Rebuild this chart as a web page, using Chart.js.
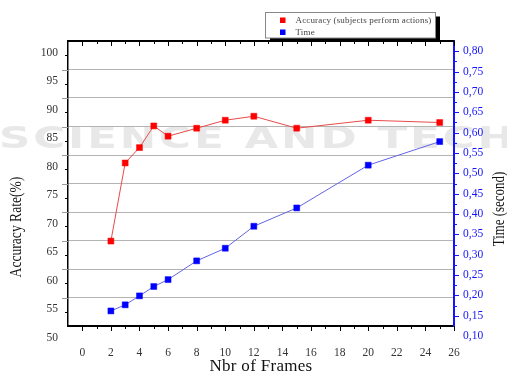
<!DOCTYPE html>
<html>
<head>
<meta charset="utf-8">
<script src="https://cdn.jsdelivr.net/npm/chart.js@4.4.1/dist/chart.umd.min.js"></script>
<style>
  html, body { margin: 0; padding: 0; background: #fff; }
  #wrap { width: 507px; height: 374px; }
</style>
</head>
<body>
<div id="wrap"><canvas id="chart" width="507" height="374"></canvas></div>
<script>
// Data
const frames = [2, 3, 4, 5, 6, 8, 10, 12, 15, 20, 25];
const accuracy = [67.4, 81.1, 83.8, 87.6, 85.8, 87.2, 88.6, 89.3, 87.2, 88.6, 88.2];
const timeSec = [0.162, 0.177, 0.199, 0.222, 0.239, 0.285, 0.316, 0.370, 0.415, 0.520, 0.578];

const frameTicks = [0, 2, 4, 6, 8, 10, 12, 14, 16, 18, 20, 22, 24, 26];
const accTicks = [55, 57.5, 60, 62.5, 65, 67.5, 70, 72.5, 75, 77.5, 80, 82.5, 85, 87.5, 90, 92.5, 95, 97.5, 100];
const timeTicks = [0.15, 0.20, 0.25, 0.30, 0.35, 0.40, 0.45, 0.50, 0.55, 0.60, 0.65, 0.70, 0.75, 0.80];

const SERIF = '"Liberation Serif", "Times New Roman", serif';
const BLUE = '#1414ff';

function seg(ctx, x1, y1, x2, y2) {
    ctx.beginPath();
    ctx.moveTo(x1, y1);
    ctx.lineTo(x2, y2);
    ctx.stroke();
}

// background, watermark, frame, minor ticks, titles and legend
const decor = {
    id: 'decor',
    beforeDraw(chart) {
        const ctx = chart.ctx;
        ctx.save();
        ctx.fillStyle = '#fff';
        ctx.fillRect(0, 0, chart.width, chart.height);
        ctx.fillStyle = '#e8e8e8';
        ctx.font = 'bold 30px "DejaVu Sans"';
        ctx.letterSpacing = '2px';
        ctx.translate(-1, 148);
        ctx.scale(1.45, 1);
        ctx.fillText('SCIENCE AND TECH', 0, 0);
        ctx.restore();
    },
    afterDraw(chart) {
        const { ctx, chartArea: a, scales } = chart;
        const x = scales.x, y = scales.y, y1 = scales.y1;
        ctx.save();

        // top frame line + inward ticks, bottom outward ticks
        ctx.strokeStyle = '#000';
        ctx.lineWidth = 2;
        seg(ctx, a.left - 1, a.top, a.right, a.top);
        ctx.lineWidth = 1;
        for (let v = 0; v <= 26; v++) {
            const px = Math.round(x.getPixelForValue(v)) + 0.5;
            const len = v % 2 === 0 ? 5 : 3;
            seg(ctx, px, a.top, px, a.top + len);
            seg(ctx, px, a.bottom, px, a.bottom + len);
        }

        // left axis ticks
        accTicks.forEach(v => {
            const py = Math.round(y.getPixelForValue(v)) + 0.5;
            if (v % 5 === 0) {
                ctx.strokeStyle = '#000';
                seg(ctx, a.left - 3, py, a.left, py);
            } else {
                ctx.strokeStyle = '#999';
                seg(ctx, a.left - 6, py, a.left, py);
            }
        });

        // right axis ticks
        ctx.strokeStyle = BLUE;
        for (let i = 0; i <= 26; i++) {
            const v = 0.15 + i * 0.025;
            const py = Math.round(y1.getPixelForValue(v)) + 0.5;
            seg(ctx, a.right, py, a.right + (i % 2 === 0 ? 5 : 3), py);
        }

        // labels that sit just below the axes
        ctx.font = '11.5px ' + SERIF;
        ctx.textBaseline = 'middle';
        ctx.fillStyle = '#333';
        ctx.textAlign = 'right';
        ctx.fillText('50', a.left - 10, y.getPixelForValue(50) - 2.5);
        ctx.fillStyle = BLUE;
        ctx.textAlign = 'left';
        ctx.fillText('0,10', a.right + 9, y1.getPixelForValue(0.10));

        // axis titles
        ctx.fillStyle = '#111';
        ctx.textAlign = 'center';
        ctx.font = '17px ' + SERIF;
        ctx.letterSpacing = '0.3px';
        ctx.fillText('Nbr of Frames', (a.left + a.right) / 2, 367);
        ctx.letterSpacing = '0px';

        ctx.font = '17px ' + SERIF;
        ctx.save();
        ctx.translate(17, 227);
        ctx.rotate(-Math.PI / 2);
        ctx.scale(0.8, 1);
        ctx.fillText('Accuracy Rate(%)', 0, 0);
        ctx.restore();

        ctx.save();
        ctx.translate(500, 209);
        ctx.rotate(-Math.PI / 2);
        ctx.scale(0.76, 1);
        ctx.fillText('Time (second)', 0, 0);
        ctx.restore();

        // legend box with drop shadow
        const lx = 265.5, ly = 12.5, lw = 170, lh = 25.5;
        ctx.fillStyle = '#000';
        ctx.fillRect(lx + 4.5, ly + 4, lw, lh);
        ctx.fillStyle = '#fff';
        ctx.fillRect(lx, ly, lw, lh);
        ctx.strokeStyle = '#888';
        ctx.lineWidth = 1;
        ctx.strokeRect(lx, ly, lw, lh);

        ctx.fillStyle = '#ff0000';
        ctx.fillRect(280, 17.5, 5.5, 5.5);
        ctx.fillStyle = '#0000ff';
        ctx.fillRect(280, 29.5, 5.5, 5.5);
        ctx.fillStyle = '#444';
        ctx.textAlign = 'left';
        ctx.font = '9px ' + SERIF;
        ctx.letterSpacing = '0.15px';
        ctx.fillText('Accuracy (subjects perform actions)', 295.5, 20.5);
        ctx.fillText('Time', 295.5, 32.5);
        ctx.restore();
    }
};

new Chart(document.getElementById('chart'), {
    type: 'line',
    data: {
        datasets: [
            {
                label: 'Accuracy (subjects perform actions)',
                data: frames.map((f, i) => ({ x: f, y: accuracy[i] })),
                yAxisID: 'y',
                borderColor: '#ea4a4a',
                borderWidth: 1,
                pointStyle: 'rect',
                pointRadius: 4.2,
                pointBackgroundColor: '#ff0000',
                pointBorderColor: '#ff0000',
                pointBorderWidth: 0.5
            },
            {
                label: 'Time',
                data: frames.map((f, i) => ({ x: f, y: timeSec[i] })),
                yAxisID: 'y1',
                borderColor: '#6464e6',
                borderWidth: 1,
                pointStyle: 'rect',
                pointRadius: 4.2,
                pointBackgroundColor: '#0000ff',
                pointBorderColor: '#0000ff',
                pointBorderWidth: 0.5
            }
        ]
    },
    options: {
        responsive: false,
        animation: false,
        clip: false,
        layout: { padding: { top: 41, left: 0, right: 0, bottom: 0 } },
        plugins: {
            legend: { display: false },
            tooltip: { enabled: false }
        },
        scales: {
            x: {
                type: 'linear',
                min: -1,
                max: 26,
                afterBuildTicks: s => { s.ticks = frameTicks.map(v => ({ value: v })); },
                afterFit: s => { s.height = 48; },
                grid: { display: false, drawTicks: false },
                border: { display: true, color: '#000', width: 2 },
                ticks: {
                    autoSkip: false,
                    maxRotation: 0,
                    padding: 20,
                    color: '#333',
                    font: { family: SERIF, size: 11.5 }
                }
            },
            y: {
                type: 'linear',
                position: 'left',
                min: 52.5,
                max: 102.5,
                afterBuildTicks: s => { s.ticks = accTicks.map(v => ({ value: v })); },
                afterFit: s => { s.width = 68; },
                grid: {
                    drawTicks: false,
                    lineWidth: 1,
                    color: c => (c.tick && c.tick.value % 5 !== 0) ? '#b4b4b4' : 'rgba(0,0,0,0)'
                },
                border: { display: true, color: '#000', width: 1.5 },
                ticks: {
                    autoSkip: false,
                    padding: 10,
                    labelOffset: -2.5,
                    color: '#333',
                    font: { family: SERIF, size: 11.5 },
                    callback: v => (v % 5 === 0 ? String(v) : '')
                }
            },
            y1: {
                type: 'linear',
                position: 'right',
                min: 0.125,
                max: 0.825,
                afterBuildTicks: s => { s.ticks = timeTicks.map(v => ({ value: v })); },
                afterFit: s => { s.width = 53; },
                grid: { drawOnChartArea: false, drawTicks: false },
                border: { display: true, color: BLUE, width: 2 },
                ticks: {
                    autoSkip: false,
                    padding: 9,
                    color: BLUE,
                    font: { family: SERIF, size: 11.5 },
                    callback: v => v.toFixed(2).replace('.', ',')
                }
            }
        }
    },
    plugins: [decor]
});
</script>
</body>
</html>
